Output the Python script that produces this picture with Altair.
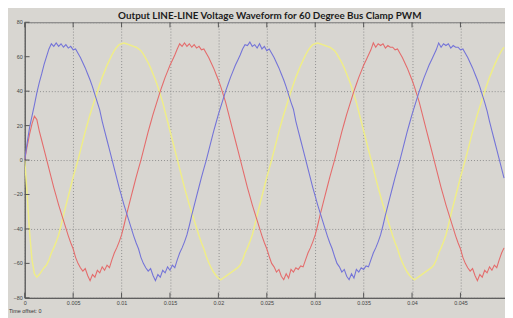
import altair as alt
import pandas as pd

TITLE = "Output LINE-LINE Voltage Waveform for 60 Degree Bus Clamp PWM"
FOOTER = "Time offset: 0"
STEP = 0.00025  # sampling interval of the readings (s)

X_TICKS = [0, 0.005, 0.01, 0.015, 0.02, 0.025, 0.03, 0.035, 0.04, 0.045]
Y_TICKS = [-80, -60, -40, -20, 0, 20, 40, 60, 80]

blue = [
    0, 10, 19, 25.5, 32, 39, 45, 50, 55.5, 60,
    64.5, 67.5, 66, 68, 66, 67.5, 65.5, 67, 65, 66,
    64, 64.5, 62, 59.5, 56.5, 53.5, 50, 46.5, 42.5, 38,
    33.5, 29, 22.5, 17, 11.5, 6, 0.5, -5, -10.5, -16,
    -21, -26, -30.5, -35, -39.5, -44, -48, -51.5, -56.5, -60,
    -62.5, -64.5, -63, -67, -70, -66.5, -68, -64, -65.5, -62,
    -64, -61, -62.5, -58, -54, -51, -47.5, -43.5, -38, -32,
    -26.5, -21, -15.5, -10, -5, 0, 5.5, 11, 16.5, 21.5,
    26.5, 31, 35.5, 40, 44, 48, 51.5, 55, 58, 61,
    64.5, 67, 66.5, 68.5, 66, 67, 65, 67.5, 64.5, 66,
    63.5, 64.5, 62, 59.5, 56.5, 53.5, 50, 46.5, 42.5, 38,
    33.5, 29.5, 22.5, 17, 11.5, 6, 0.5, -5, -10.5, -16,
    -21, -26, -30.5, -35, -39.5, -44, -48, -51.5, -56, -60,
    -62, -65, -63.5, -67.5, -69.5, -66, -68.5, -63.5, -65, -62.5,
    -63.5, -61.5, -62, -58, -54, -51, -47.5, -43.5, -38, -32,
    -26.5, -21, -15.5, -10, -5, 0, 5.5, 11, 16.5, 21.5,
    26.5, 31, 35.5, 40, 44, 48, 51.5, 55, 58, 61,
    64, 68, 65.5, 67.5, 66.5, 67.5, 65, 66.5, 65.5, 65.5,
    64, 64.5, 62, 59.5, 56.5, 53.5, 50, 46.5, 42.5, 38,
    33.5, 28.5, 22.5, 17, 11.5, 6, 0.5, -5, -10.5,
]

red = [
    0, 8, 15, 21, 25.5, 23.5, 17, 11.5, 6, 0.5,
    -5, -10.5, -16, -21, -26, -30.5, -35, -39.5, -44, -48,
    -51.5, -56.5, -60, -62.5, -64.5, -63, -67, -70, -66.5, -68,
    -64, -65.5, -62, -64, -61, -62.5, -58, -54, -51, -47.5,
    -43.5, -38, -32, -26.5, -21, -15.5, -10, -5, 0, 5.5,
    11, 16.5, 21.5, 26.5, 31, 35.5, 40, 44, 48, 51.5,
    55, 58, 61, 64.5, 67.5, 66, 68, 66, 67.5, 65.5,
    67, 65, 66, 64, 64.5, 62, 59.5, 56.5, 53.5, 50,
    46.5, 42.5, 38, 33.5, 28, 22.5, 17, 11.5, 6, 0.5,
    -5, -10.5, -16, -21, -26, -30.5, -35, -39.5, -44, -48,
    -51.5, -56, -60, -62, -65, -63.5, -67.5, -69.5, -66, -68.5,
    -63.5, -65, -62.5, -63.5, -61.5, -62, -58, -54, -51, -47.5,
    -43.5, -38, -32, -26.5, -21, -15.5, -10, -5, 0, 5.5,
    11, 16.5, 21.5, 26.5, 31, 35.5, 40, 44, 48, 51.5,
    55, 58, 61, 64, 68, 65.5, 67.5, 66.5, 67.5, 65,
    66.5, 65.5, 65.5, 64, 64.5, 62, 59.5, 56.5, 53.5, 50,
    46.5, 42.5, 38, 33.5, 28, 22.5, 17, 11.5, 6, 0.5,
    -5, -10.5, -16, -21, -26, -30.5, -35, -39.5, -44, -48,
    -51.5, -56.5, -60, -62.5, -64.5, -63, -67, -70, -66.5, -68,
    -64, -65.5, -62, -64, -61, -62.5, -58, -54, -51,
]

yellow = [
    0, -20, -42, -58, -66, -68, -66.5, -64.5, -62.5, -61,
    -58, -54, -51, -47.5, -43.5, -38, -32, -26.5, -21, -15.5,
    -10, -5, 0, 5.5, 11, 16.5, 21.5, 26.5, 31, 35.5,
    40, 44, 48, 51.5, 55, 58, 61, 63.5, 65.5, 67,
    67.5, 68, 67.5, 67, 66.5, 66, 65.5, 64.5, 63.5, 61.5,
    59, 56.5, 53.5, 50, 46.5, 42.5, 38, 33.5, 28, 22.5,
    17, 11.5, 6, 0.5, -5, -10.5, -16, -21, -26, -30.5,
    -35, -39.5, -44, -48, -51.5, -56, -59.5, -62.5, -65, -67,
    -68.5, -69.5, -68.5, -67.5, -66.5, -65.5, -64.5, -63.5, -62.5, -61,
    -58, -54, -51, -47.5, -43.5, -38, -32, -26.5, -21, -15.5,
    -10, -5, 0, 5.5, 11, 16.5, 21.5, 26.5, 31, 35.5,
    40, 44, 48, 51.5, 55, 58, 61, 63.5, 65.5, 67,
    67.5, 68, 67.5, 67, 66.5, 66, 65.5, 64.5, 63.5, 61.5,
    59, 56.5, 53.5, 50, 46.5, 42.5, 38, 33.5, 28, 22.5,
    17, 11.5, 6, 0.5, -5, -10.5, -16, -21, -26, -30.5,
    -35, -39.5, -44, -48, -51.5, -56, -59.5, -62.5, -65, -67,
    -68.5, -69.5, -68.5, -67.5, -66.5, -65.5, -64.5, -63.5, -62.5, -61,
    -58, -54, -51, -47.5, -43.5, -38, -32, -26.5, -21, -15.5,
    -10, -5, 0, 5.5, 11, 16.5, 21.5, 26.5, 31, 35.5,
    40, 44, 48, 51.5, 55, 58, 61, 63.5, 65.5,
]

SERIES = ["Vyb", "Vbr", "Vry"]
COLORS = ["#efed88", "#e46c6c", "#7474d8"]

n = len(blue)
time = [round(i * STEP, 6) for i in range(n)]
df = pd.DataFrame({
    "t": time * 3,
    "v": yellow + red + blue,
    "s": [SERIES[0]] * n + [SERIES[1]] * n + [SERIES[2]] * n,
})

BG = "#d8d6d1"
AXC = "#555555"
xscale = alt.Scale(domain=[0, 0.0496], nice=False, zero=False)
yscale = alt.Scale(domain=[-80, 80], nice=False)

XAXIS = alt.Axis(values=X_TICKS, format=".3~f", grid=True, gridColor="#8e8e8e",
                 gridDash=[1, 2], gridWidth=1, ticks=False, domainColor=AXC,
                 labelFontSize=5.5, labelColor="#444", labelPadding=3,
                 labelFont="Liberation Sans", labelFlush=False,
                 labelOverlap=False, title=None)
YAXIS = alt.Axis(values=Y_TICKS, grid=True, gridColor="#8e8e8e",
                 gridDash=[1, 2], gridWidth=1, ticks=False, domainColor=AXC,
                 labels=False, title=None)

lines = alt.Chart(df).mark_line(clip=True).encode(
    x=alt.X("t:Q", scale=xscale, axis=XAXIS),
    y=alt.Y("v:Q", scale=yscale, axis=YAXIS),
    color=alt.Color("s:N", scale=alt.Scale(domain=SERIES, range=COLORS), legend=None),
    strokeWidth=alt.condition(alt.datum.s == SERIES[0], alt.value(1.5), alt.value(1.1)),
)

xt = pd.DataFrame({"t": X_TICKS})
yt = pd.DataFrame({"v": Y_TICKS})
bottom_ticks = alt.Chart(xt).mark_rule(color=AXC, strokeWidth=1).encode(
    x=alt.X("t:Q", scale=xscale, axis=XAXIS), y=alt.datum(-80), y2=alt.datum(-77))
top_ticks = alt.Chart(xt).mark_rule(color=AXC, strokeWidth=1).encode(
    x=alt.X("t:Q", scale=xscale, axis=XAXIS), y=alt.datum(80), y2=alt.datum(77))
left_ticks = alt.Chart(yt).mark_rule(color=AXC, strokeWidth=1).encode(
    y=alt.Y("v:Q", scale=yscale, axis=YAXIS), x=alt.datum(0), x2=alt.datum(0.0005))
y_labels = alt.Chart(yt).mark_text(
    align="right", baseline="middle", fontSize=5.5, color="#444", font="Liberation Sans"
).encode(y=alt.Y("v:Q", scale=yscale, axis=YAXIS), x=alt.value(-2), text=alt.Text("v:Q", format="d"))

footer = alt.Chart(pd.DataFrame({"txt": [FOOTER]})).mark_text(
    align="left", baseline="middle", fontSize=5.5, color="#333", font="Liberation Sans"
).encode(text="txt:N", x=alt.value(-16), y=alt.value(293))

title = alt.Chart(pd.DataFrame({"txt": [TITLE]})).mark_text(
    align="center", baseline="alphabetic", fontSize=10, fontWeight="bold",
    font="Liberation Sans Narrow, Lato", color="#1c1c1c"
).encode(text="txt:N", x=alt.value(249), y=alt.value(-3))

chart = alt.layer(lines, bottom_ticks, top_ticks, left_ticks, y_labels, footer, title).properties(
    width=488,
    height=280,
    background=BG,
    padding={"left": 17, "top": 12, "right": 0, "bottom": 18},
    autosize=alt.AutoSizeParams(type="none"),
).configure_view(stroke="#777777", fill=BG)

chart.save("out.html", embed_options={"renderer": "svg", "actions": False})
